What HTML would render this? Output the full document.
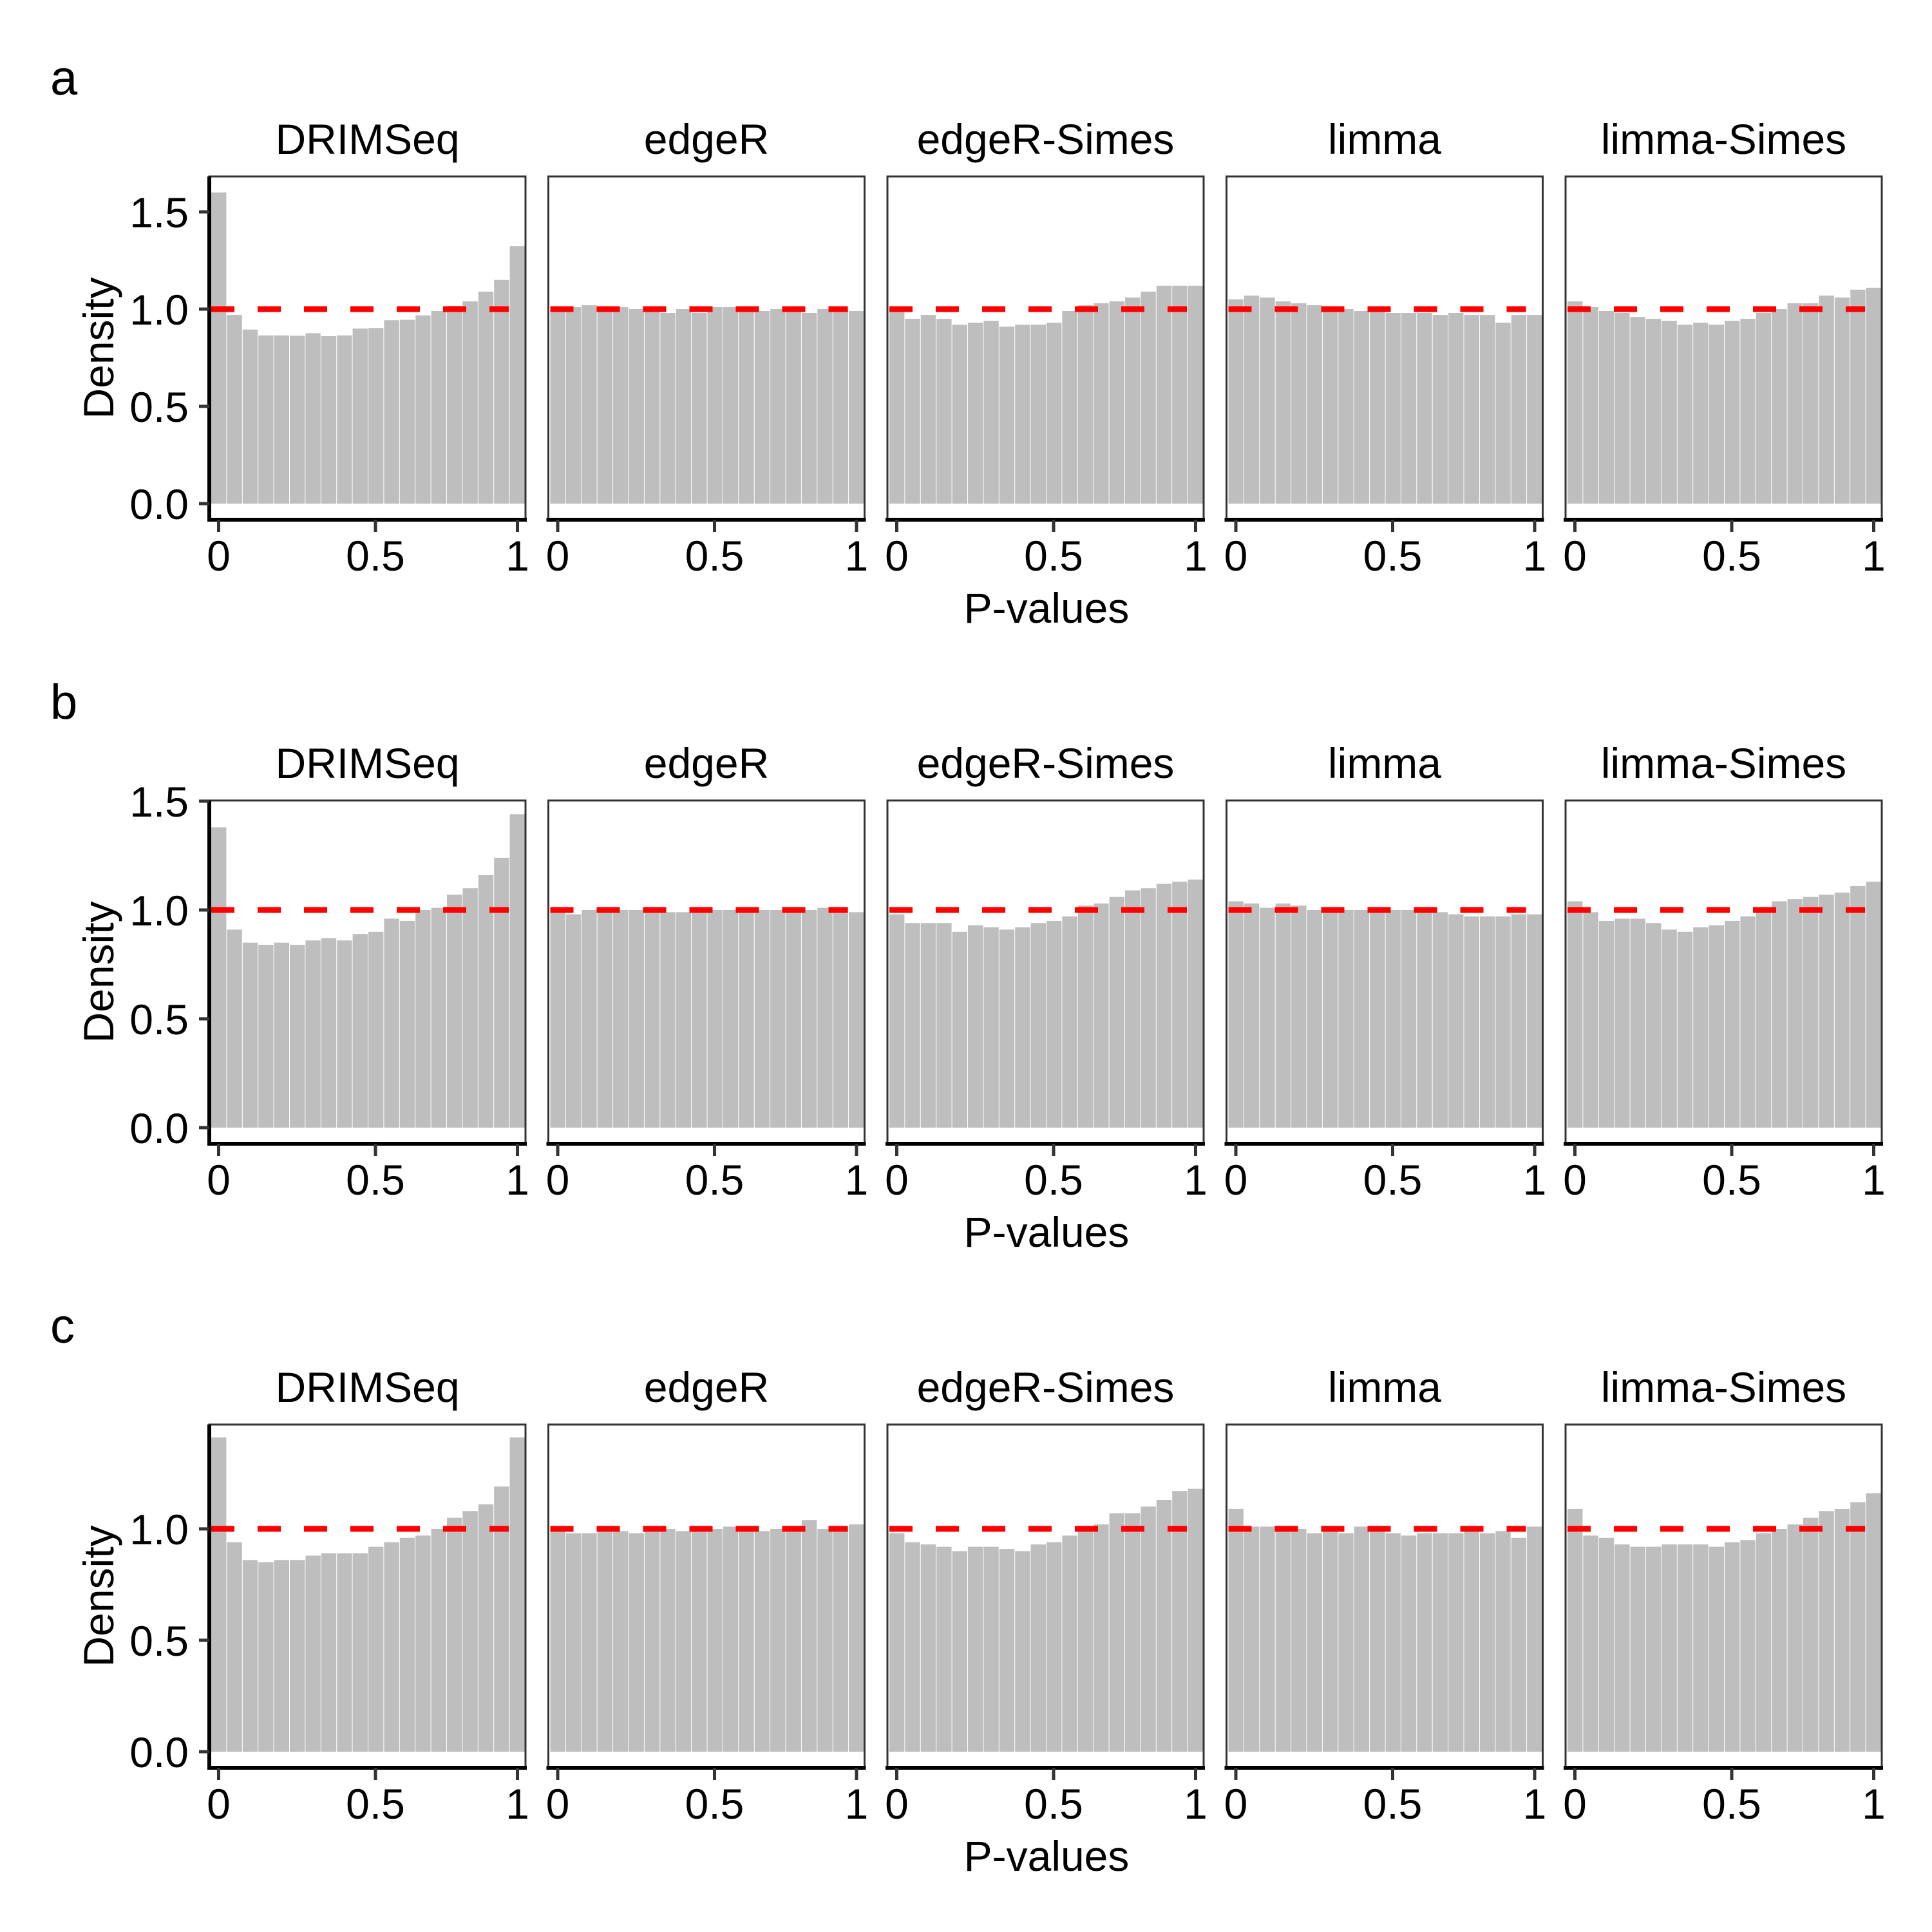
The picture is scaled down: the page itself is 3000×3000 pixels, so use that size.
<!DOCTYPE html>
<html><head><meta charset="utf-8"><style>
html,body{margin:0;padding:0;background:#fff;}
svg{display:block;font-family:"Liberation Sans",Arial,sans-serif;}
</style></head><body>
<svg id="s" width="3000" height="3000" viewBox="0 0 3000 3000" xmlns="http://www.w3.org/2000/svg"></svg>
<script>
var names=["DRIMSeq","edgeR","edgeR-Simes","limma","limma-Simes"];
var data=[
[[1.60,0.97,0.895,0.865,0.865,0.863,0.876,0.861,0.865,0.90,0.903,0.943,0.945,0.968,0.99,1.017,1.04,1.09,1.15,1.324],
[1.0,1.01,1.02,0.99,1.01,1.0,0.99,0.98,1.0,0.98,1.01,1.01,1.01,0.99,1.0,1.0,0.98,1.0,1.0,0.99],
[0.99,0.95,0.97,0.95,0.92,0.93,0.94,0.91,0.92,0.92,0.93,0.99,1.02,1.03,1.04,1.06,1.09,1.12,1.12,1.12],
[1.05,1.07,1.06,1.04,1.03,1.02,1.01,1.0,0.99,0.99,0.98,0.98,0.98,0.97,0.98,0.97,0.97,0.93,0.97,0.97],
[1.04,1.01,0.99,0.98,0.96,0.95,0.94,0.92,0.93,0.92,0.94,0.95,0.98,1.00,1.03,1.03,1.07,1.06,1.10,1.11]],
[[1.38,0.91,0.85,0.84,0.85,0.84,0.86,0.87,0.86,0.89,0.90,0.96,0.95,1.0,1.01,1.07,1.10,1.16,1.24,1.44],
[1.0,0.98,1.0,0.99,1.0,1.0,1.0,0.99,0.99,0.99,1.0,1.0,1.0,1.0,1.0,1.0,1.0,1.01,1.01,0.99],
[0.98,0.94,0.94,0.94,0.90,0.93,0.92,0.91,0.92,0.94,0.95,0.97,1.02,1.03,1.06,1.09,1.10,1.12,1.13,1.14],
[1.04,1.03,1.01,1.03,1.02,1.0,0.99,1.0,1.0,0.99,1.0,1.0,0.99,0.99,0.98,0.97,0.97,0.97,0.98,0.98],
[1.04,0.99,0.95,0.96,0.96,0.94,0.91,0.90,0.92,0.93,0.95,0.97,1.00,1.04,1.05,1.06,1.07,1.08,1.11,1.13]],
[[1.41,0.94,0.86,0.85,0.86,0.86,0.88,0.89,0.89,0.89,0.92,0.94,0.96,0.97,1.0,1.05,1.08,1.11,1.19,1.41],
[0.99,0.98,0.98,0.99,0.99,0.98,1.0,1.0,0.99,1.0,1.0,1.01,1.01,0.99,1.0,1.0,1.04,1.0,1.01,1.02],
[0.98,0.94,0.93,0.92,0.90,0.92,0.92,0.91,0.90,0.93,0.94,0.97,1.0,1.02,1.07,1.07,1.10,1.13,1.17,1.18],
[1.09,1.01,1.01,1.00,1.00,0.98,1.0,0.98,1.01,1.0,0.98,0.97,0.98,0.98,0.98,1.0,0.98,0.99,0.96,1.01],
[1.09,0.97,0.96,0.93,0.92,0.92,0.93,0.93,0.93,0.92,0.94,0.95,0.98,1.00,1.02,1.05,1.08,1.09,1.12,1.16]]];
var rows=[{off:0,y0:782,ppu:302,ticks:["0.0","0.5","1.0","1.5"]},
{off:969,y0:1751,ppu:338,ticks:["0.0","0.5","1.0","1.5"]},
{off:1938,y0:2720,ppu:346,ticks:["0.0","0.5","1.0"]}];
var labels=["a","b","c"];
var h="";
var FS=66;
rows.forEach(function(r,ri){
  var top=274+r.off,bot=807+r.off;
  h+='<text x="78" y="'+(147+r.off)+'" font-size="76">'+labels[ri]+'</text>';
  h+='<text transform="translate(153,'+((top+bot)/2)+') rotate(-90)" text-anchor="middle" dy="0.35em" font-size="'+FS+'">Density</text>';
  h+='<text x="1625" y="'+(967+r.off)+'" text-anchor="middle" font-size="'+FS+'">P-values</text>';
  for(var p=0;p<5;p++){
    var L=325+p*526.5,R=L+491;
    h+='<text x="'+((L+R)/2)+'" y="'+(239+r.off)+'" text-anchor="middle" font-size="'+FS+'">'+names[p]+'</text>';
    var d=data[ri][p];
    for(var i=0;i<20;i++){
      var x=L+3+i*24.4,yt=r.y0-d[i]*r.ppu;
      h+='<rect x="'+x.toFixed(1)+'" y="'+yt.toFixed(1)+'" width="23.4" height="'+(r.y0-yt).toFixed(1)+'" fill="#bebebe"/>';
    }
    var y1=r.y0-r.ppu;
    h+='<line x1="'+(L+3)+'" x2="'+(L+465)+'" y1="'+y1+'" y2="'+y1+'" stroke="#ff0000" stroke-width="9" stroke-dasharray="36 36"/>';
    h+='<rect x="'+L+'" y="'+top+'" width="491" height="'+(bot-top)+'" fill="none" stroke="#333" stroke-width="3"/>';
    h+='<line x1="'+(L-3)+'" x2="'+(R+2)+'" y1="'+bot+'" y2="'+bot+'" stroke="#000" stroke-width="6"/>';
    if(p==0) h+='<line x1="'+L+'" x2="'+L+'" y1="'+top+'" y2="'+(bot+3)+'" stroke="#000" stroke-width="6"/>';
    var xt=[[14.5,"0"],[258,"0.5"],[478.5,"1"]];
    xt.forEach(function(t){
      var x=L+t[0];
      h+='<line x1="'+x+'" x2="'+x+'" y1="'+bot+'" y2="'+(bot+19)+'" stroke="#333" stroke-width="5"/>';
      h+='<text x="'+x+'" y="'+(886+r.off)+'" text-anchor="middle" font-size="'+FS+'">'+t[1]+'</text>';
    });
  }
  r.ticks.forEach(function(t,k){
    var y=r.y0-k*0.5*r.ppu;
    h+='<line x1="309" x2="325" y1="'+y+'" y2="'+y+'" stroke="#333" stroke-width="5"/>';
    h+='<text x="293" y="'+y+'" dy="0.36em" text-anchor="end" font-size="'+FS+'">'+t+'</text>';
  });
});
document.getElementById("s").innerHTML=h;
</script>
</body></html>
